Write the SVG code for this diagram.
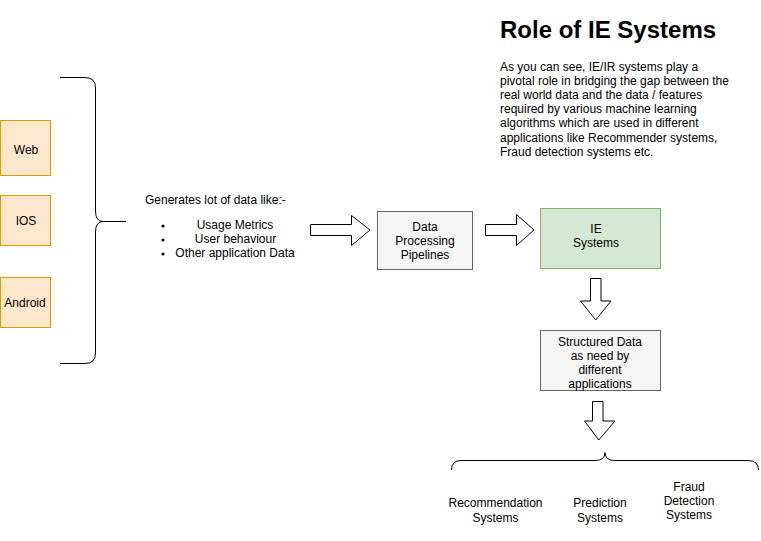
<svg xmlns="http://www.w3.org/2000/svg" width="761" height="541" viewBox="0 0 761 541">
<style>
text{font-family:"Liberation Sans",Arial,Helvetica,sans-serif;font-size:12px;fill:#000}
.c{text-anchor:middle}
.src{fill:#ffe6cc;stroke:#d79b00;stroke-width:1}
.gray{fill:#f5f5f5;stroke:#666666;stroke-width:1}
.green{fill:#d5e8d4;stroke:#82b366;stroke-width:1}
.arrow{fill:#ffffff;stroke:#000000;stroke-width:1;stroke-linejoin:miter}
.brace{fill:none;stroke:#000000;stroke-width:1}
</style>
<rect width="761" height="541" fill="#ffffff"/>

<g id="title">
<text x="500" y="38" style="font-size:24px;font-weight:bold">Role of IE Systems</text>
<text x="500" y="70.5">As you can see, IE/IR systems play a</text>
<text x="500" y="84.7">pivotal role in bridging the gap between the</text>
<text x="500" y="98.9">real world data and the data / features</text>
<text x="500" y="113.1">required by various machine learning</text>
<text x="500" y="127.3">algorithms which are used in different</text>
<text x="500" y="141.5">applications like Recommender systems,</text>
<text x="500" y="155.7">Fraud detection systems etc.</text>
</g>

<g id="web">
<rect class="src" x="0.5" y="120.5" width="50" height="55"/>
<text class="c" x="26" y="153.5">Web</text>
</g>
<g id="ios">
<rect class="src" x="0.5" y="195.5" width="50" height="50"/>
<text class="c" x="26" y="225">IOS</text>
</g>
<g id="android">
<rect class="src" x="0.5" y="277.5" width="50" height="50"/>
<text class="c" x="25" y="307">Android</text>
</g>

<g id="generates">
<text x="145" y="204">Generates lot of data like:-</text>
<circle cx="163" cy="226" r="1.6"/>
<circle cx="163" cy="240" r="1.6"/>
<circle cx="163" cy="254" r="1.6"/>
<text class="c" x="235" y="229">Usage Metrics</text>
<text class="c" x="235.5" y="243">User behaviour</text>
<text class="c" x="235" y="257">Other application Data</text>
</g>

<g id="pipelines">
<rect class="gray" x="377.5" y="211.5" width="95" height="58"/>
<text class="c" x="425" y="231">Data</text>
<text class="c" x="425" y="245">Processing</text>
<text class="c" x="425" y="259">Pipelines</text>
</g>

<g id="ie">
<rect class="green" x="540.5" y="208.5" width="120" height="60"/>
<text class="c" x="596" y="233">IE</text>
<text class="c" x="596" y="247">Systems</text>
</g>

<g id="structured">
<rect class="gray" x="540.5" y="330.5" width="120" height="60"/>
<text class="c" x="600" y="346">Structured Data</text>
<text class="c" x="600" y="360">as need by</text>
<text class="c" x="600" y="374">different</text>
<text class="c" x="600" y="388">applications</text>
</g>

<g id="recommendation">
<text class="c" x="495.5" y="507">Recommendation</text>
<text class="c" x="495.5" y="522">Systems</text>
</g>
<g id="prediction">
<text class="c" x="600" y="507">Prediction</text>
<text class="c" x="600" y="522">Systems</text>
</g>
<g id="fraud">
<text class="c" x="689" y="491">Fraud</text>
<text class="c" x="689" y="505">Detection</text>
<text class="c" x="689" y="519">Systems</text>
</g>

<g id="connectors">
<path class="brace" d="M60,77.5 H85 Q95.5,77.5 95.5,88 V211 Q95.5,221.5 103,221.5 Q95.5,221.5 95.5,232 V353 Q95.5,363.5 85,363.5 H60"/>
<path class="brace" d="M103,221.5 H126"/>
<path class="arrow" d="M310.5,224.5 H351.5 V215.5 L370,230 L351.5,245.5 V235.5 H310.5 Z"/>
<path class="arrow" d="M485.5,224.5 H516.5 V214.5 L534,230 L516.5,245.5 V235.5 H485.5 Z"/>
<path class="arrow" d="M590.5,278.5 H601 V301 H611 L595.75,320 L580.5,301 H590.5 Z"/>
<path class="arrow" d="M592.5,401.5 H603 V421 H615 L598.75,440 L584.5,421 H592.5 Z"/>
<path class="brace" d="M451.5,470 Q451.5,460.5 461,460.5 H595 Q605,460.5 605,452.5 Q605,460.5 615,460.5 H748 Q758.5,460.5 758.5,470"/>
</g>
</svg>
